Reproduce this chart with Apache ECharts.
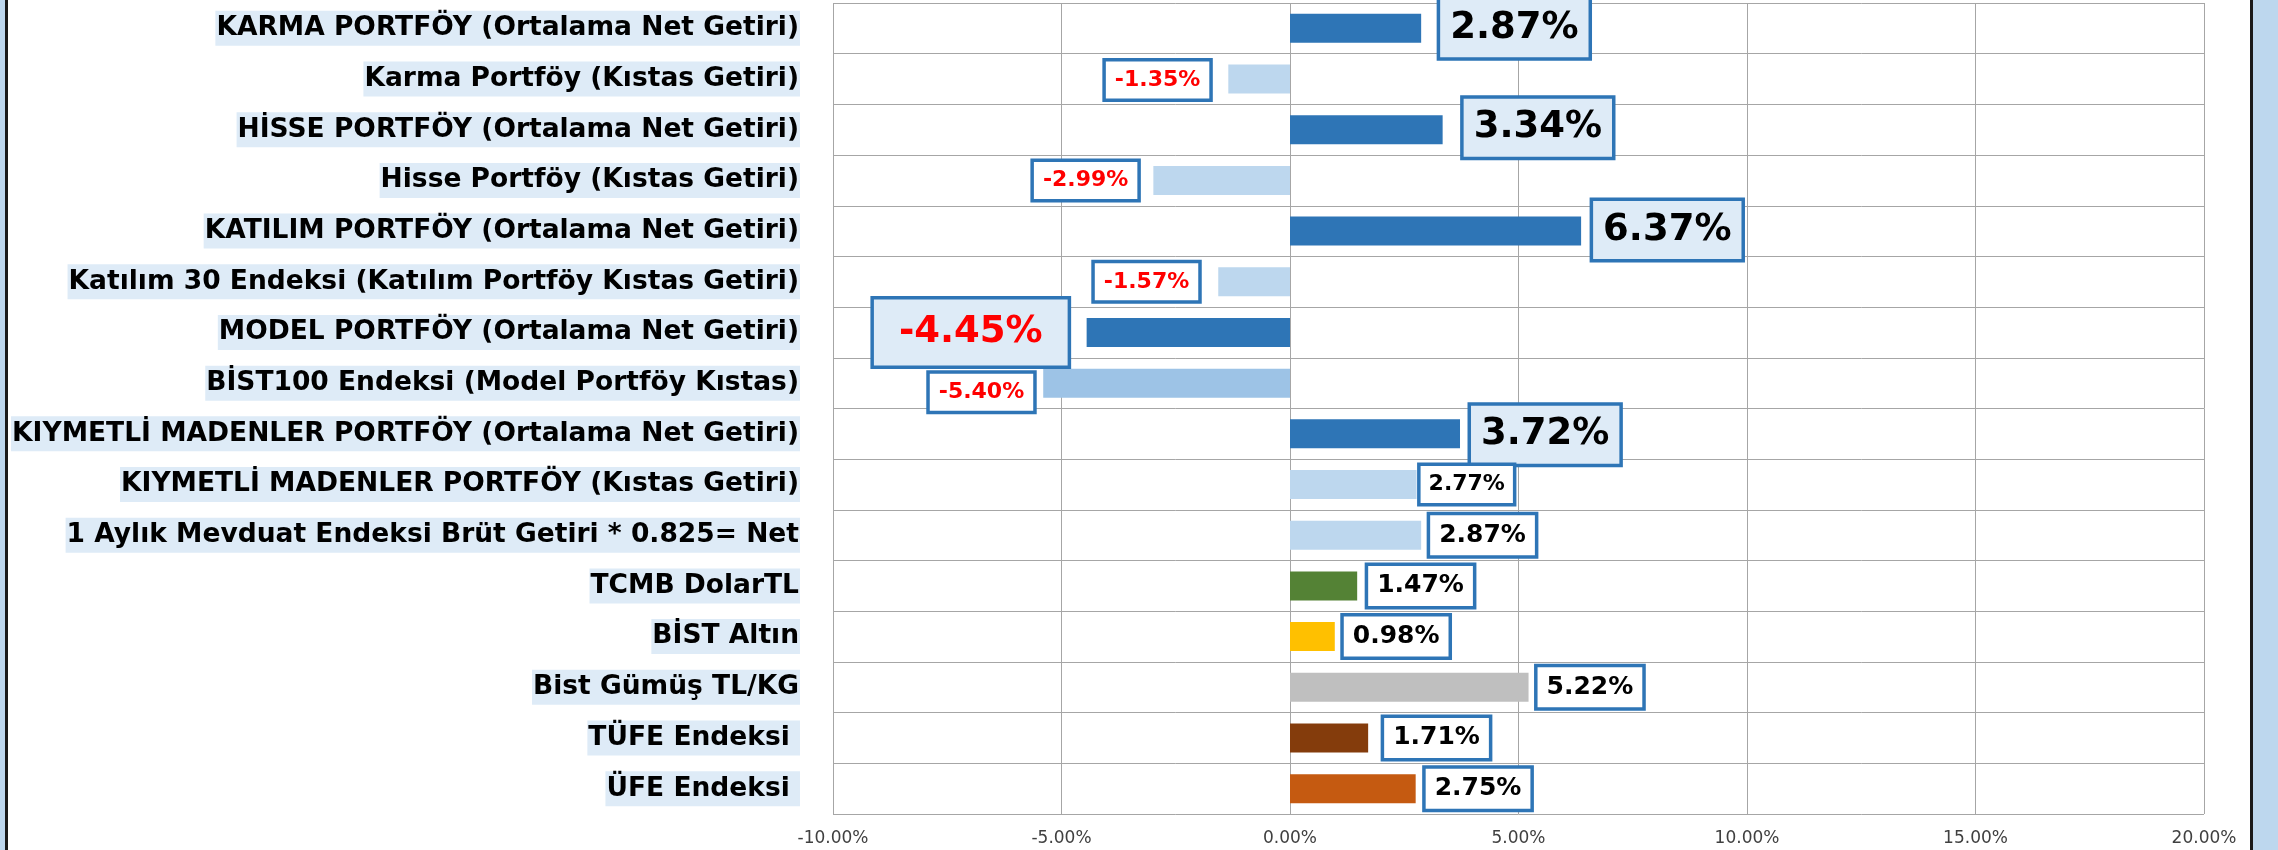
<!DOCTYPE html>
<html>
<head>
<meta charset="utf-8">
<script src="https://cdn.jsdelivr.net/npm/echarts@6/dist/echarts.min.js"></script>
<style>
  html, body { margin: 0; padding: 0; background: #fff; }
  #fund-returns { width: 2278px; height: 850px; }
</style>
</head>
<body>
<div id="fund-returns"></div>
<script>
var categories = [
  'KARMA PORTFÖY (Ortalama Net Getiri)',
  'Karma Portföy (Kıstas Getiri)',
  'HİSSE PORTFÖY (Ortalama Net Getiri)',
  'Hisse Portföy (Kıstas Getiri)',
  'KATILIM PORTFÖY (Ortalama Net Getiri)',
  'Katılım 30 Endeksi (Katılım Portföy Kıstas Getiri)',
  'MODEL PORTFÖY (Ortalama Net Getiri)',
  'BİST100 Endeksi (Model Portföy Kıstas)',
  'KIYMETLİ MADENLER PORTFÖY (Ortalama Net Getiri)',
  'KIYMETLİ MADENLER PORTFÖY (Kıstas Getiri)',
  '1 Aylık Mevduat Endeksi Brüt Getiri * 0.825= Net',
  'TCMB DolarTL',
  'BİST Altın',
  'Bist Gümüş TL/KG',
  'TÜFE Endeksi ',
  'ÜFE Endeksi '
]
var returns = [2.87, -1.35, 3.34, -2.99, 6.37, -1.57, -4.45, -5.40, 3.72, 2.77, 2.87, 1.47, 0.98, 5.22, 1.71, 2.75]
var xTicks = [-10, -5, 0, 5, 10, 15, 20]

// styling per row, kept apart from the values
var barColors = ['#2e75b6', '#bdd7ee', '#2e75b6', '#bdd7ee', '#2e75b6', '#bdd7ee', '#2e75b6', '#9dc3e6',
  '#2e75b6', '#bdd7ee', '#bdd7ee', '#548235', '#ffc000', '#bfbfbf', '#843c0c', '#c55a11']
var labelKind = ['big', 'red', 'big', 'red', 'big', 'red', 'bigRed', 'red', 'big', 'small', 'mid', 'mid', 'mid', 'mid', 'mid', 'mid']
var labelGap = [19, 19, 21, 16, 12, 20, 19, 10, 11, 4, 9, 11, 9, 9, 16, 10]
var labelNudge = [0, 1, -2, 0, -1, 0, 0, 9, 1, 0, 0, 0, 0, 0, 0, 0]

var kinds = {
  big: { fontSize: 37, lineHeight: 44, padding: [7, 10], backgroundColor: '#deebf7' },
  bigRed: { fontSize: 37, lineHeight: 44, padding: [11, 25], backgroundColor: '#deebf7' },
  red: { fontSize: 22, lineHeight: 27, padding: [5, 9], backgroundColor: '#ffffff' },
  small: { fontSize: 22, lineHeight: 27, padding: [5, 8], backgroundColor: '#ffffff' },
  mid: { fontSize: 25, lineHeight: 30, padding: [5, 9], backgroundColor: '#ffffff' }
}

var barData = returns.map(function (v, i) {
  var k = kinds[labelKind[i]]
  return {
    value: v,
    itemStyle: { color: barColors[i] },
    label: {
      show: true,
      position: v < 0 ? 'left' : 'right',
      distance: labelGap[i],
      offset: [0, labelNudge[i]],
      fontFamily: 'DejaVu Sans',
      fontWeight: 'bold',
      fontSize: k.fontSize,
      lineHeight: k.lineHeight,
      padding: k.padding,
      backgroundColor: k.backgroundColor,
      borderColor: '#2e75b6',
      borderWidth: 3.5,
      color: v < 0 ? '#ff0000' : '#000000',
      formatter: function (p) { return p.value.toFixed(2) + '%' }
    }
  }
})

var chart = echarts.init(document.getElementById('fund-returns'))

var option = {
  backgroundColor: '#ffffff',
  animation: false,
  graphic: [
    { type: 'rect', z: -10, shape: { x: 0, y: 0, width: 5, height: 850 }, style: { fill: '#bdd7ee' } },
    { type: 'rect', z: -10, shape: { x: 5, y: 0, width: 3, height: 850 }, style: { fill: '#1a1a1a' } },
    { type: 'rect', z: -10, shape: { x: 2250, y: 0, width: 3, height: 850 }, style: { fill: '#1a1a1a' } },
    { type: 'rect', z: -10, shape: { x: 2253, y: 0, width: 25, height: 850 }, style: { fill: '#bdd7ee' } }
  ],
  grid: {
    left: 833,
    right: 74,
    top: 3,
    bottom: 36,
    containLabel: false,
    outerBoundsMode: 'none'
  },
  xAxis: {
    type: 'value',
    min: xTicks[0],
    max: xTicks[xTicks.length - 1],
    interval: xTicks[1] - xTicks[0],
    axisLine: { show: false },
    axisTick: { show: false },
    splitLine: { show: true, lineStyle: { color: '#a6a6a6', width: 1 } },
    axisLabel: {
      margin: 16,
      fontFamily: 'DejaVu Sans',
      fontSize: 17,
      color: '#404040',
      formatter: function (v) { return v.toFixed(2) + '%' }
    }
  },
  yAxis: {
    type: 'category',
    inverse: true,
    data: categories,
    axisLine: { show: false },
    axisTick: { show: false },
    splitLine: { show: true, lineStyle: { color: '#a6a6a6', width: 1 } },
    axisLabel: {
      margin: 33,
      fontFamily: 'DejaVu Sans',
      fontWeight: 'bold',
      fontSize: 26.5,
      color: '#000000',
      lineHeight: 35,
      padding: [0, 1],
      backgroundColor: '#deebf7'
    }
  },
  series: [{
    type: 'bar',
    barWidth: 29,
    data: barData
  }]
}

chart.setOption(option)
</script>
</body>
</html>
